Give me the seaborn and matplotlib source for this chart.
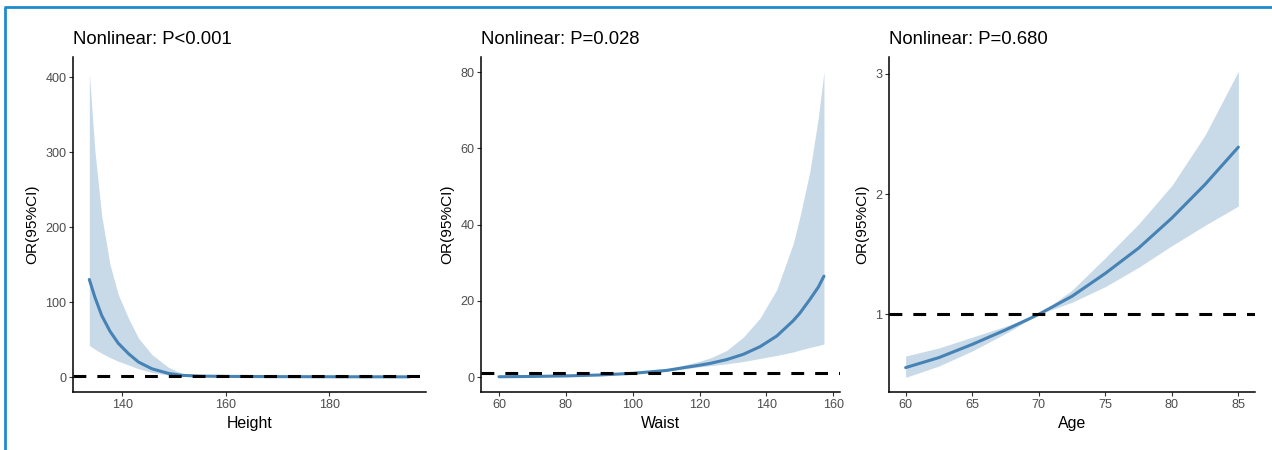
import numpy as np
import pandas as pd
import matplotlib
matplotlib.use("Agg")
import matplotlib.pyplot as plt
import seaborn as sns

# ---------------- data ----------------
height_x = [133.6, 134.7, 136.0, 137.6, 139.2, 141.2, 143.1, 145.7, 148.9, 151.5, 155.0, 160.0, 170.0, 180.0, 190.0, 195.5]
height_or = [130, 106, 82, 61, 45, 31, 20, 11, 4.8, 2.2, 1.2, 0.8, 0.5, 0.35, 0.25, 0.2]
height_lo = [42, 37, 31.6, 26, 21, 16.0, 11.0, 6.0, 2.6, 1.2, 0.7, 0.6, 0.3, 0.15, 0.08, 0.05]
height_hi = [405, 300, 215, 150, 110, 78, 52, 30, 13, 5.0, 2.0, 1.0, 0.9, 0.8, 0.75, 0.7]

waist_x = [60, 70, 80, 90, 100, 110, 120.1, 123.1, 128.1, 133.1, 138.1, 143.1, 148.0, 150.0, 153.0, 155.5, 157.2]
waist_or = [0.1, 0.18, 0.32, 0.56, 1.0, 1.75, 3.15, 3.6, 4.6, 6.0, 8.0, 10.8, 14.8, 16.8, 20.4, 23.6, 26.5]
waist_lo = [0.06, 0.12, 0.24, 0.47, 0.95, 1.55, 2.7, 3.0, 3.5, 4.1, 4.9, 5.7, 6.6, 7.1, 7.8, 8.3, 8.7]
waist_hi = [0.17, 0.27, 0.43, 0.67, 1.05, 2.0, 4.2, 5.0, 7.0, 10.5, 15.5, 23.0, 35.0, 42.0, 54.0, 68.0, 80.0]

age_x = [60, 62.5, 65, 67.5, 70, 72.5, 75, 77.5, 80, 82.5, 85]
age_or = [0.557, 0.64, 0.75, 0.87, 1.0, 1.15, 1.34, 1.55, 1.80, 2.08, 2.39]
age_lo = [0.476, 0.57, 0.695, 0.84, 1.0, 1.10, 1.23, 1.39, 1.57, 1.74, 1.90]
age_hi = [0.653, 0.72, 0.81, 0.90, 1.0, 1.20, 1.47, 1.75, 2.07, 2.49, 3.02]

titles = ["Nonlinear: P<0.001", "Nonlinear: P=0.028", "Nonlinear: P=0.680"]
xlabels = ["Height", "Waist", "Age"]
ylabel = "OR(95%CI)"
x_ticks = [[140, 160, 180], [60, 80, 100, 120, 140, 160], [60, 65, 70, 75, 80, 85]]
y_ticks = [[0, 100, 200, 300, 400], [0, 20, 40, 60, 80], [1, 2, 3]]
ref_or = 1

# ---------------- style ----------------
sns.set_style("ticks")
plt.rcParams["font.family"] = ["Liberation Sans", "DejaVu Sans"]

W, H = 1272, 450
fig = plt.figure(figsize=(W / 100, H / 100), dpi=100)

# axes boxes in pixels: left, right, top, bottom
boxes = [(73.3, 425.7, 57, 392), (481.3, 840.0, 57, 392), (889.3, 1255.0, 57, 392)]
xlims = [(130.5, 198.7), (54.7, 162.0), (58.77, 86.25)]
ylims = [(-20.0, 426.7), (-3.9, 84.0), (0.354, 3.139)]

line_col = "#4682B4"
band_col = "#C8D9E8"

panels = [
    (height_x, height_or, height_lo, height_hi),
    (waist_x, waist_or, waist_lo, waist_hi),
    (age_x, age_or, age_lo, age_hi),
]

for i, (xs, ys, lo, hi) in enumerate(panels):
    l, r, t, b = boxes[i]
    ax = fig.add_axes([l / W, 1 - b / H, (r - l) / W, (b - t) / H])
    df = pd.DataFrame({"x": xs, "OR": ys, "lo": lo, "hi": hi})
    ax.fill_between(df["x"], df["lo"], df["hi"], color=band_col, linewidth=0, zorder=1)
    sns.lineplot(data=df, x="x", y="OR", ax=ax, color=line_col, linewidth=2.2, zorder=3)
    ax.axhline(ref_or, color="black", linewidth=2.2, linestyle=(0, (4.2, 3.6)), zorder=4)

    ax.set_xlim(*xlims[i])
    ax.set_ylim(*ylims[i])
    ax.set_xticks(x_ticks[i])
    ax.set_yticks(y_ticks[i])
    ax.set_xticklabels([str(v) for v in x_ticks[i]])
    ax.set_yticklabels([str(v) for v in y_ticks[i]])
    sns.despine(ax=ax)
    for s in ["left", "bottom"]:
        ax.spines[s].set_linewidth(1.1)
        ax.spines[s].set_color("black")
    ax.tick_params(axis="both", length=2.8, width=0.8, color="#333333",
                   labelcolor="#4D4D4D", labelsize=9.1)
    ax.tick_params(axis="x", pad=2.5)
    ax.tick_params(axis="y", pad=2.2)
    ax.set_xlabel(xlabels[i], fontsize=11.4, color="black", labelpad=3)
    ax.set_ylabel(ylabel, fontsize=11.1, color="black", labelpad=4)
    ax.set_title(titles[i], loc="left", fontsize=13.3, color="black", pad=9)
    ax.grid(False)

# blue frame (left and top edges)
frame_col = "#1E8BCD"
fig.add_artist(plt.Line2D([5 / W, 5 / W], [0, 1 - 7 / H], transform=fig.transFigure,
                          color=frame_col, linewidth=2.0, solid_capstyle="butt"))
fig.add_artist(plt.Line2D([5 / W - 0.0008, 1], [1 - 7 / H, 1 - 7 / H], transform=fig.transFigure,
                          color=frame_col, linewidth=2.0, solid_capstyle="butt"))

fig.savefig("out.png", dpi=100)
